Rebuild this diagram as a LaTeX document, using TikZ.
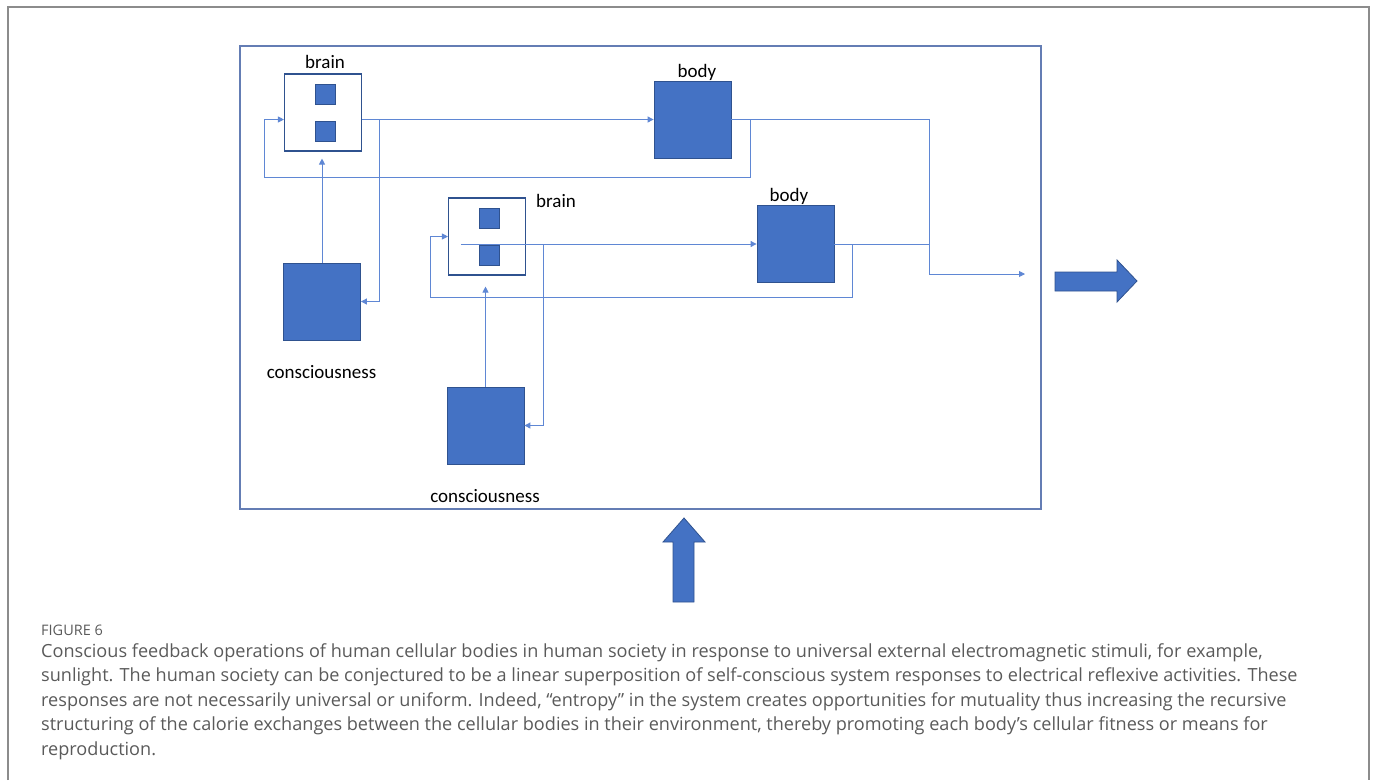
\documentclass[tikz,border=0pt]{standalone}
\usepackage{fontspec}
\setmainfont{Carlito}
\newfontfamily\capfont{Open Sans}
\usetikzlibrary{arrows.meta}
\definecolor{boxfill}{HTML}{4472C4}
\definecolor{boxedge}{HTML}{2F528F}
\definecolor{wire}{RGB}{95,135,212}
\definecolor{sysedge}{RGB}{100,125,180}
\definecolor{capgray}{RGB}{90,90,90}
\definecolor{outer}{RGB}{140,140,140}
\begin{document}
\begin{tikzpicture}[x=1pt,y=-1pt,
  bigbox/.style={draw=boxedge,fill=boxfill,line width=0.8pt,minimum size=77pt,inner sep=0pt},
  cell/.style={draw=boxedge,fill=boxfill,line width=0.6pt,minimum size=20pt,inner sep=0pt},
  brainbox/.style={draw=boxedge,fill=white,line width=1.1pt,minimum size=77pt,inner sep=0pt},
  lbl/.style={font=\fontsize{19}{21}\selectfont,anchor=base,inner sep=0pt},
  flow/.style={draw=wire,line width=0.9pt},
  tip/.style={-{Triangle[length=6pt,width=6pt]}},
  caption/.style={font=\capfont\fontsize{18.1}{22}\selectfont,text=capgray,anchor=base west,inner sep=0pt},
  blockarrow/.style={draw=boxedge,fill=boxfill,line width=0.8pt}
]
\useasboundingbox (0,0) rectangle (1375,780);
% page frame, open at the bottom
\draw[outer,line width=2pt] (8,780) -- (8,7) -- (1369,7) -- (1369,780);

% the system boundary
\node[draw=sysedge,line width=1.5pt,minimum width=801pt,minimum height=463pt,inner sep=0pt] (system) at (640.5,277.5) {};

% first cell: brain, body, consciousness
\node[brainbox] (brainA) at (323,112.5) {};
\node[cell] (cA1) at (325.5,94) {};
\node[cell] (cA2) at (325.5,131) {};
\node[bigbox] (bodyA) at (692.5,119.5) {};
\node[bigbox] (consA) at (322,301.5) {};
\node[lbl] (lbrainA) at (325,68) {brain};
\node[lbl] (lbodyA) at (697,77) {body};
\node[lbl] (lconsA) at (321.5,378) {consciousness};

% second cell
\node[brainbox] (brainB) at (487,236.5) {};
\node[cell] (cB1) at (489.5,218.5) {};
\node[cell] (cB2) at (489.5,255.5) {};
\node[bigbox] (bodyB) at (795.5,244) {};
\node[bigbox] (consB) at (485.5,425.5) {};
\node[lbl] (lbrainB) at (556,207) {brain};
\node[lbl] (lbodyB) at (789,201) {body};
\node[lbl] (lconsB) at (485,502) {consciousness};

% routing points
\coordinate (loopA) at (264,177);
\coordinate (loopB) at (430,297);
\coordinate (merge) at (929,244);
\coordinate (exit) at (1025,274);

% first cell connections
\draw[flow,tip] (brainA.east |- bodyA.west) -- (bodyA.west);
\draw[flow,tip] (brainA.east |- bodyA.west) -- ++(17,0) |- (consA.east);
\draw[flow,tip,shorten >=7pt] (consA.north) -- (consA.north |- brainA.south);
\draw[flow,tip] (bodyA.east) -- ++(19,0) |- (loopA) |- (brainA.west |- bodyA.west);
\draw[flow] (bodyA.east) -| (merge);

% second cell connections
\draw[flow,tip] ([xshift=13pt]brainB.west |- bodyB.west) -- (bodyB.west);
\draw[flow,tip] (brainB.east |- bodyB.west) -- ++(17,0) |- (consB.east);
\draw[flow,tip,shorten >=11pt] (consB.north) -- (consB.north |- brainB.south);
\draw[flow,tip] (bodyB.east) -- ++(18,0) |- (loopB) |- (brainB.west);
\draw[flow] (bodyB.east) -- (merge);

% combined output
\draw[flow,tip] (merge) |- (exit);

% block arrows: outgoing response and incoming stimulus
\draw[blockarrow] (1055,272) -- (1117,272) -- (1117,260) -- (1137,281) -- (1117,302) -- (1117,291) -- (1055,291) -- cycle;
\draw[blockarrow] (673,602) -- (673,542) -- (663,542) -- (684,518) -- (705,542) -- (694,542) -- (694,602) -- cycle;

% caption
\node[font=\capfont\fontsize{14.5}{16}\selectfont,text=capgray,anchor=base west,inner sep=0pt] (fig) at (41,635) {FIGURE 6};
\node[caption] (cap1) at (41,657) {Conscious feedback operations of human cellular bodies in human society in response to universal external electromagnetic stimuli, for example,};
\node[caption] (cap2) at (41,681.5) {sunlight. The human society can be conjectured to be a linear superposition of self-conscious system responses to electrical reflexive activities. These};
\node[caption] (cap3) at (41,706) {responses are not necessarily universal or uniform. Indeed, “entropy” in the system creates opportunities for mutuality thus increasing the recursive};
\node[caption] (cap4) at (41,730.5) {structuring of the calorie exchanges between the cellular bodies in their environment, thereby promoting each body’s cellular fitness or means for};
\node[caption] (cap5) at (41,755) {reproduction.};
\end{tikzpicture}
\end{document}
